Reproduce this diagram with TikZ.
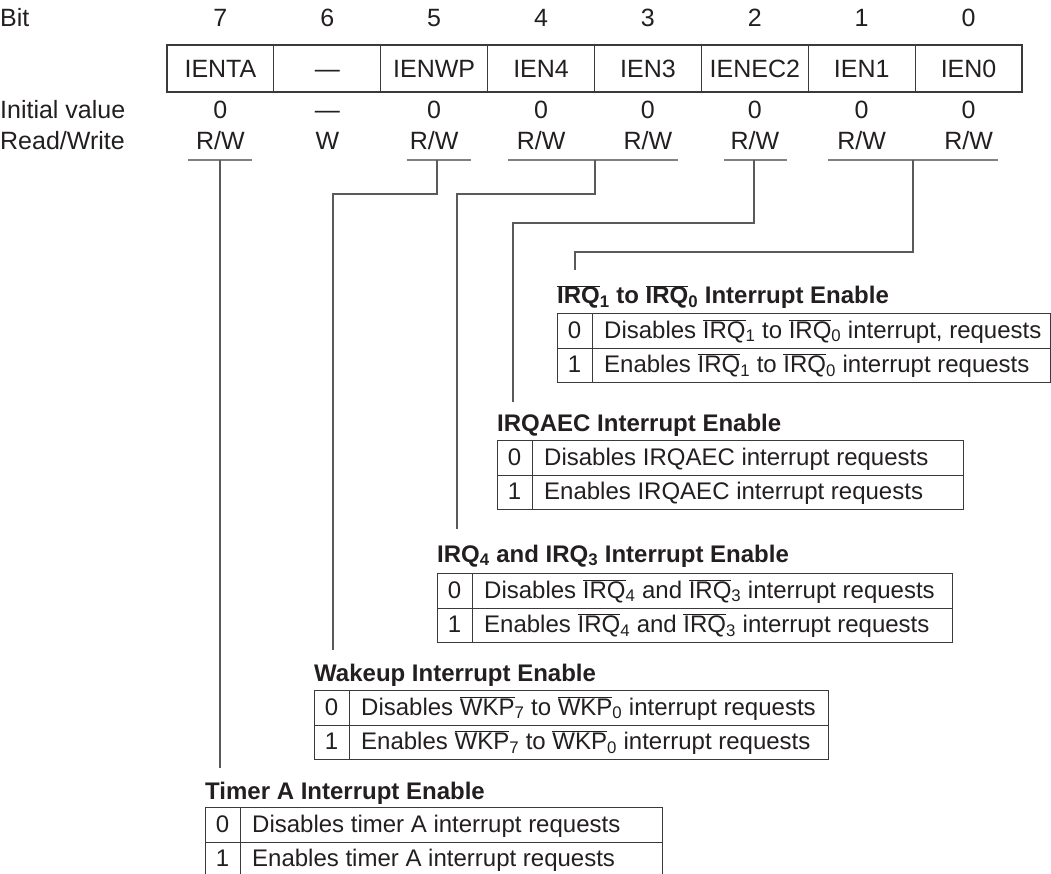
\documentclass[tikz,border=0pt]{standalone}
\usepackage{fontspec}
\setmainfont{Liberation Sans}
\definecolor{ink}{HTML}{231F20}
\definecolor{conn}{HTML}{5A5A5A}
\definecolor{uline}{HTML}{808080}
\definecolor{frame}{HTML}{3A3A3A}
\newcommand{\ovl}[1]{$\overline{\mbox{#1}}$}
\tikzset{
  x=1pt, y=-1pt,
  every node/.style={text=ink, font=\fontsize{24}{28}\selectfont, inner sep=0pt},
  toptext/.style={font=\fontsize{25}{29}\selectfont, anchor=base},
  regcell/.style={draw=frame, line width=1.2pt, minimum width=106.875pt, minimum height=47pt},
  connector/.style={draw=conn, line width=1.3pt},
  underl/.style={draw=uline, line width=1.3pt},
  ttitle/.style={anchor=base west, font=\fontsize{24}{28}\selectfont\bfseries},
  dcell/.style={draw=frame, line width=1.2pt, anchor=north west, minimum width=35pt, minimum height=34.5pt},
  tcell/.style={draw=frame, line width=1.2pt, anchor=north west, minimum height=34.5pt, minimum width=#1},
  celltext/.style={anchor=base west},
  digit/.style={anchor=base},
}
\begin{document}
\begin{tikzpicture}
\useasboundingbox (0,0) rectangle (1051,874);
\clip (0,0) rectangle (1051,874);
% header labels
\node[toptext, anchor=base west] (lbit) at (0,27) {Bit};
\node[toptext, anchor=base west] (linit) at (0,119) {Initial value};
\node[toptext, anchor=base west] (lrw) at (0,150) {Read/Write};
% register cells
\foreach \b/\name/\init [count=\i from 0] in {7/IENTA/0, 6/---/---, 5/IENWP/0, 4/IEN4/0, 3/IEN3/0, 2/IENEC2/0, 1/IEN1/0, 0/IEN0/0}{
  \pgfmathsetmacro{\cx}{167+106.875*(\i+0.5)}
  \node[toptext] (n\b) at (\cx,27) {\b};
  \node[regcell] (c\b) at (\cx,68.5) {};
  \node[toptext] (cn\b) at (\cx,77.5) {\name};
  \node[toptext] (iv\b) at (\cx,119) {\init};
}
\foreach \b [count=\i from 0] in {7,6,5,4,3,2,1,0}{
  \pgfmathsetmacro{\cx}{167+106.875*(\i+0.5)}
  \ifnum\b=6
    \node[toptext] (rw\b) at (\cx,150) {W};
  \else
    \node[toptext] (rw\b) at (\cx,150) {R/W};
  \fi
}
% underlines
\coordinate (u7a) at (188,160); \coordinate (u7b) at (252,160);
\coordinate (u5a) at (407,160); \coordinate (u5b) at (471,160);
\coordinate (u43a) at (508,160); \coordinate (u43b) at (678,160);
\coordinate (u2a) at (724,160); \coordinate (u2b) at (787,160);
\coordinate (u10a) at (828,160); \coordinate (u10b) at (998,160);
\draw[underl] (u7a) -- (u7b);
\draw[underl] (u5a) -- (u5b);
\draw[underl] (u43a) -- (u43b);
\draw[underl] (u2a) -- (u2b);
\draw[underl] (u10a) -- (u10b);
% connector start/end points
\coordinate (p7) at (220,160);  \coordinate (e7) at (220,768);
\coordinate (p5) at (437,160);  \coordinate (k5) at (333,194);  \coordinate (e5) at (333,650);
\coordinate (p43) at (595,160); \coordinate (k43) at (457,194); \coordinate (e43) at (457,529);
\coordinate (p2) at (754,160);  \coordinate (k2) at (513,223);  \coordinate (e2) at (513,402);
\coordinate (p10) at (913,160); \coordinate (k10) at (575,252); \coordinate (e10) at (575,270);
\draw[connector] (p7) -- (e7);
\draw[connector] (p5) |- (k5) -- (e5);
\draw[connector] (p43) |- (k43) -- (e43);
\draw[connector] (p2) |- (k2) -- (e2);
\draw[connector] (p10) |- (k10) -- (e10);
% Table IRQ1/IRQ0
\node[ttitle] (t10) at (557,304) {\ovl{IRQ}\textsubscript{1} to \ovl{IRQ}\textsubscript{0} Interrupt Enable};
\node[dcell] (t10d0) at (557,313) {};
\node[tcell=458pt] (t10r0) at (592,313) {};
\node[dcell] (t10d1) at (557,347.5) {};
\node[tcell=458pt] (t10r1) at (592,347.5) {};
\node[digit] (t10n0) at (574.5,338) {0};
\node[celltext] (t10x0) at (604,338) {Disables \ovl{IRQ}\textsubscript{1} to \ovl{IRQ}\textsubscript{0} interrupt, requests};
\node[digit] (t10n1) at (574.5,372.5) {1};
\node[celltext] (t10x1) at (604,372.5) {Enables \ovl{IRQ}\textsubscript{1} to \ovl{IRQ}\textsubscript{0} interrupt requests};
% Table IRQAEC
\node[ttitle] (t2) at (497,431) {IRQAEC Interrupt Enable};
\node[dcell] (t2d0) at (497,440) {};
\node[tcell=431pt] (t2r0) at (532,440) {};
\node[dcell] (t2d1) at (497,474.5) {};
\node[tcell=431pt] (t2r1) at (532,474.5) {};
\node[digit] (t2n0) at (514.5,465) {0};
\node[celltext] (t2x0) at (544,465) {Disables IRQAEC interrupt requests};
\node[digit] (t2n1) at (514.5,499.5) {1};
\node[celltext] (t2x1) at (544,499.5) {Enables IRQAEC interrupt requests};
% Table IRQ4/IRQ3
\node[ttitle] (t43) at (437,562) {IRQ\textsubscript{4} and IRQ\textsubscript{3} Interrupt Enable};
\node[dcell] (t43d0) at (437,573) {};
\node[tcell=480pt] (t43r0) at (472,573) {};
\node[dcell] (t43d1) at (437,607.5) {};
\node[tcell=480pt] (t43r1) at (472,607.5) {};
\node[digit] (t43n0) at (454.5,598) {0};
\node[celltext] (t43x0) at (484,598) {Disables \ovl{IRQ}\textsubscript{4} and \ovl{IRQ}\textsubscript{3} interrupt requests};
\node[digit] (t43n1) at (454.5,632.5) {1};
\node[celltext] (t43x1) at (484,632.5) {Enables \ovl{IRQ}\textsubscript{4} and \ovl{IRQ}\textsubscript{3} interrupt requests};
% Table Wakeup
\node[ttitle] (t5) at (314,681) {Wakeup Interrupt Enable};
\node[dcell] (t5d0) at (314,690) {};
\node[tcell=479pt] (t5r0) at (349,690) {};
\node[dcell] (t5d1) at (314,724.5) {};
\node[tcell=479pt] (t5r1) at (349,724.5) {};
\node[digit] (t5n0) at (331.5,715) {0};
\node[celltext] (t5x0) at (361,715) {Disables \ovl{WKP}\textsubscript{7} to \ovl{WKP}\textsubscript{0} interrupt requests};
\node[digit] (t5n1) at (331.5,749.5) {1};
\node[celltext] (t5x1) at (361,749.5) {Enables \ovl{WKP}\textsubscript{7} to \ovl{WKP}\textsubscript{0} interrupt requests};
% Table Timer A
\node[ttitle] (t7) at (205,799) {Timer A Interrupt Enable};
\node[dcell] (t7d0) at (205,807) {};
\node[tcell=422pt] (t7r0) at (240,807) {};
\node[dcell] (t7d1) at (205,841.5) {};
\node[tcell=422pt] (t7r1) at (240,841.5) {};
\node[digit] (t7n0) at (222.5,832) {0};
\node[celltext] (t7x0) at (252,832) {Disables timer A interrupt requests};
\node[digit] (t7n1) at (222.5,866.5) {1};
\node[celltext] (t7x1) at (252,866.5) {Enables timer A interrupt requests};
\end{tikzpicture}
\end{document}
